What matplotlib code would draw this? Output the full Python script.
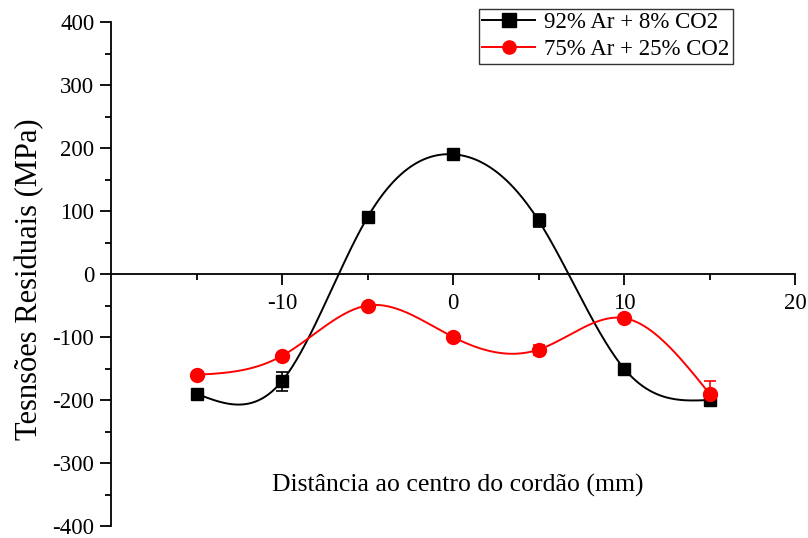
"""
Residual stresses across the weld bead, two shielding gas mixtures
"""

# IMPORTs alias
import numpy as np
import matplotlib
matplotlib.use('Agg')
import matplotlib.pyplot as plt

# IMPORTs sub
from matplotlib.ticker import MultipleLocator, FixedLocator

# DATA
distance = [-15, -10, -5, 0, 5, 10, 15]
stress_8co2 = [-190, -170, 90, 190, 85, -150, -200]
err_8co2 = [0, 15, 0, 0, 10, 0, 5]
stress_25co2 = [-160, -130, -50, -100, -120, -70, -190]
err_25co2 = [0, 0, 0, 0, 8, 0, 20]

labels = ['92% Ar + 8% CO2', '75% Ar + 25% CO2']
colours = ['black', 'red']
markers = ['s', 'o']


def natural_spline(x, y, n=300):
    """
    Natural cubic spline through the points, for the smooth line drawing.
    """

    x = np.asarray(x, dtype='float64')
    y = np.asarray(y, dtype='float64')
    h = np.diff(x)
    size = x.size
    A = np.zeros((size, size))
    b = np.zeros(size)
    A[0, 0] = A[-1, -1] = 1
    for i in range(1, size - 1):
        A[i, i - 1] = h[i - 1]
        A[i, i] = 2 * (h[i - 1] + h[i])
        A[i, i + 1] = h[i]
        b[i] = 6 * ((y[i + 1] - y[i]) / h[i] - (y[i] - y[i - 1]) / h[i - 1])
    M = np.linalg.solve(A, b)

    xs = np.linspace(x[0], x[-1], n)
    idx = np.clip(np.searchsorted(x, xs) - 1, 0, size - 2)
    x0, x1 = x[idx], x[idx + 1]
    hh = x1 - x0
    ys = (M[idx] * (x1 - xs)**3 / (6 * hh) + M[idx + 1] * (xs - x0)**3 / (6 * hh)
          + (y[idx] / hh - M[idx] * hh / 6) * (x1 - xs)
          + (y[idx + 1] / hh - M[idx + 1] * hh / 6) * (xs - x0))
    return xs, ys


plt.rcParams['font.family'] = ['Liberation Serif', 'DejaVu Serif']
plt.rcParams['axes.unicode_minus'] = False

fig = plt.figure(figsize=(8.08, 5.38), dpi=100)
ax = fig.add_axes([111 / 808, 12 / 538, 684 / 808, 504 / 538])

series = [(stress_8co2, err_8co2), (stress_25co2, err_25co2)]
for (values, errors), label, colour, marker in zip(series, labels, colours, markers):
    xs, ys = natural_spline(distance, values)
    ax.plot(xs, ys, color=colour, linewidth=1.4, zorder=2)
    ax.errorbar(distance, values, yerr=errors, fmt='none', ecolor=colour,
                elinewidth=1.2, capsize=4, capthick=1.2, zorder=3)
    ax.plot(distance, values, linestyle='none', marker=marker, color=colour,
            markersize=9 if marker == 's' else 10, zorder=4)
    ax.plot([], [], color=colour, marker=marker, markersize=9.5, linewidth=1.4, label=label)

ax.set_xlim(-20, 20)
ax.set_ylim(-400, 400)

# AXES style
ax.spines['right'].set_visible(False)
ax.spines['top'].set_visible(False)
ax.spines['bottom'].set_position(('data', 0))
ax.spines['bottom'].set_linewidth(1.3)
ax.spines['left'].set_linewidth(1.3)

ax.xaxis.set_major_locator(FixedLocator([-10, 0, 10, 20]))
ax.xaxis.set_minor_locator(FixedLocator([-15, -5, 5, 15]))
ax.yaxis.set_major_locator(MultipleLocator(100))
ax.yaxis.set_minor_locator(MultipleLocator(50))
ax.tick_params(which='both', direction='out', width=1.3, labelsize=16.5)
ax.tick_params(which='major', length=8)
ax.tick_params(which='minor', length=4.5)
ax.tick_params(axis='x', pad=6)
ax.tick_params(axis='y', pad=4)

# LABELs
fig.text(30 / 808, 1 - 279 / 538, 'Tesnsões Residuais (MPa)', fontsize=22,
         rotation=90, ha='center', va='center')
fig.text(458 / 808, 1 - 485 / 538, 'Distância ao centro do cordão (mm)', fontsize=18.5,
         ha='center', va='center')

legend = ax.legend(loc='upper right', bbox_to_anchor=(733 / 808, 1 - 9 / 538),
                   bbox_transform=fig.transFigure, fontsize=16.5, frameon=True,
                   fancybox=False, edgecolor='black', borderpad=0.15,
                   labelspacing=0.25, handlelength=2.3, handletextpad=0.4,
                   borderaxespad=0)
legend.get_frame().set_linewidth(1.0)

fig.savefig('out.png', dpi=100)
